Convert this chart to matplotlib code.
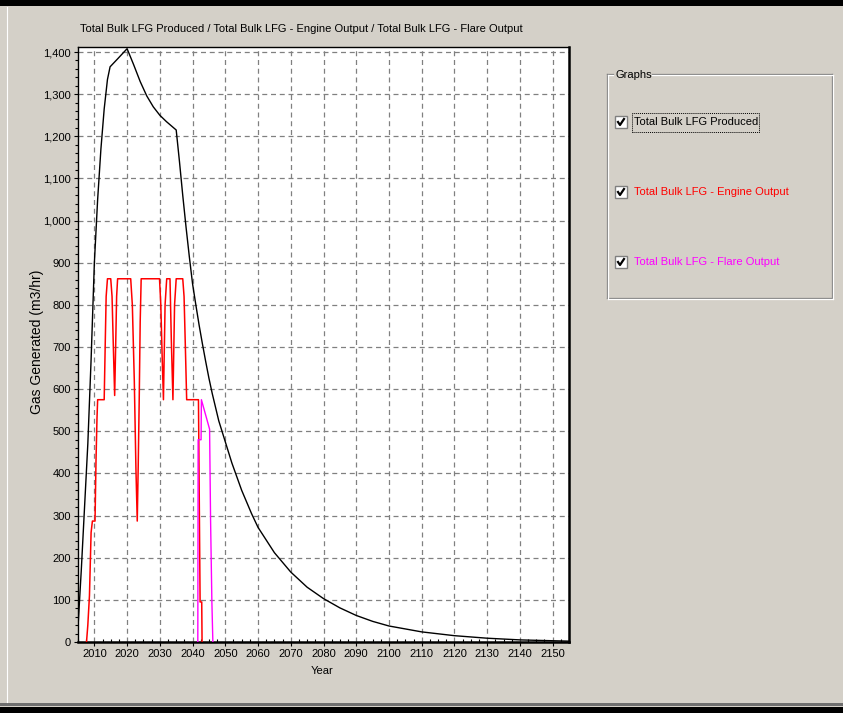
import matplotlib
matplotlib.use("Agg")
import matplotlib.pyplot as plt
from matplotlib.patches import Rectangle
from matplotlib.lines import Line2D
from matplotlib.ticker import FuncFormatter, MultipleLocator

# ---------------- data ----------------
produced_years = [2005, 2006, 2007, 2008, 2009, 2010, 2011, 2012, 2013, 2014, 2014.8,
                  2017, 2020, 2022, 2024, 2026, 2028, 2030, 2032, 2035, 2036, 2037,
                  2038, 2039, 2040, 2041, 2042, 2043, 2044, 2045, 2046, 2048, 2050,
                  2052, 2055, 2058, 2060, 2065, 2070, 2075, 2080, 2085, 2090, 2095,
                  2100, 2110, 2120, 2130, 2140, 2150, 2155]
produced_vals = [35, 170, 320, 470, 670, 900, 1050, 1170, 1265, 1335, 1365,
                 1383, 1408, 1370, 1330, 1296, 1270, 1250, 1235, 1215, 1140, 1060,
                 985, 915, 850, 800, 752, 708, 666, 626, 590, 525, 475,
                 425, 360, 305, 272, 212, 166, 130, 103, 81, 63, 49,
                 38, 24, 15, 9, 5, 3, 2]

engine_years = [2007.6, 2008.0, 2008.5, 2009.0, 2009.4, 2010.2, 2010.5, 2010.8, 2011.0,
                2013.0, 2013.3, 2013.6, 2014.0, 2015.0, 2015.4, 2015.8, 2016.2, 2016.5,
                2016.8, 2017.1, 2021.1, 2021.6, 2022.2, 2022.7, 2023.1, 2023.4, 2023.7,
                2024.0, 2024.3, 2029.9, 2030.3, 2030.7, 2031.1, 2031.6, 2032.1, 2033.1,
                2033.5, 2034.0, 2034.5, 2035.0, 2037.0, 2037.4, 2037.8, 2038.2, 2041.8,
                2041.9, 2042.3, 2042.8, 2042.9]
engine_vals = [0, 40, 110, 260, 287, 287, 430, 530, 575,
               575, 700, 820, 862, 862, 820, 700, 585, 700,
               820, 862, 862, 800, 620, 410, 287, 420, 575,
               760, 862, 862, 800, 680, 575, 800, 862, 862,
               720, 575, 800, 862, 862, 820, 700, 575, 575,
               480, 95, 95, 0]

flare_years = [2041.6, 2041.7, 2042.6, 2042.7, 2045.2, 2045.5, 2045.9, 2046.2]
flare_vals = [0, 480, 480, 575, 505, 290, 95, 0]

x_ticks = list(range(2010, 2151, 10))
y_ticks = list(range(0, 1401, 100))

title = "Total Bulk LFG Produced / Total Bulk LFG - Engine Output / Total Bulk LFG - Flare Output"
legend_labels = ["Total Bulk LFG Produced", "Total Bulk LFG - Engine Output",
                 "Total Bulk LFG - Flare Output"]
legend_colors = ["#000000", "#FF0000", "#FF00FF"]

# ---------------- figure ----------------
W, H = 843, 713
FONT = ["Liberation Sans", "DejaVu Sans"]
plt.rcParams["font.family"] = FONT
BG = "#D4D0C8"
FS = 8

fig = plt.figure(figsize=(W / 100, H / 100), dpi=100, facecolor=BG)


def fx(px):
    return px / W


def fy(py):
    return 1 - py / H


# window chrome
fig.patches.append(Rectangle((0, fy(6)), 1, 6 / H, transform=fig.transFigure,
                             facecolor="black", edgecolor="none"))
fig.patches.append(Rectangle((0, 0), 1, 6 / H, transform=fig.transFigure,
                             facecolor="black", edgecolor="none"))
fig.patches.append(Rectangle((0, fy(706)), 1, 3 / H, transform=fig.transFigure,
                             facecolor="#6E6E6E", edgecolor="none"))
fig.lines.append(Line2D([fx(7), fx(7)], [fy(7), fy(702)], transform=fig.transFigure,
                        color="white", lw=0.8))

# axes
ax_l, ax_r, ax_t, ax_b = 78, 569, 47, 642
ax = fig.add_axes([fx(ax_l), fy(ax_b), (ax_r - ax_l) / W, (ax_b - ax_t) / H])
ax.set_facecolor("white")

ax.plot(produced_years, produced_vals, color="#000000", lw=1.0, zorder=3)
ax.plot(engine_years, engine_vals, color="#FF0000", lw=1.1, zorder=4)
ax.plot(flare_years, flare_vals, color="#FF00FF", lw=1.0, zorder=5)

ax.set_xlim(2005, 2155)
ax.set_ylim(0, 1412)
ax.set_xticks(x_ticks)
ax.set_yticks(y_ticks)
ax.xaxis.set_minor_locator(MultipleLocator(2.5))
ax.yaxis.set_minor_locator(MultipleLocator(20))
ax.yaxis.set_major_formatter(FuncFormatter(lambda v, p: f"{int(v):,}"))
ax.grid(True, which="major", color="#808080", linestyle=(0, (4, 3)), lw=0.9)
ax.set_axisbelow(True)
ax.tick_params(axis="both", which="major", labelsize=FS, length=3, width=0.8,
               color="black", pad=2)
ax.tick_params(axis="x", which="minor", direction="in", length=2, width=0.8)
ax.tick_params(axis="y", which="minor", direction="out", length=2, width=0.8)
for s in ["left", "top"]:
    ax.spines[s].set_linewidth(1.0)
for s in ["right", "bottom"]:
    ax.spines[s].set_linewidth(1.8)

fig.text(fx(80), fy(29), title, fontsize=FS, ha="left", va="center")
fig.text(fx(37), fy(342), "Gas Generated (m3/hr)", fontsize=10, rotation=90,
         ha="center", va="center")
fig.text(fx(322), fy(671), "Year", fontsize=FS, ha="center", va="center")

# group box "Graphs"
gx0, gx1, gy0, gy1 = 607, 832, 74, 298


def hline(x0, x1, y, c):
    fig.lines.append(Line2D([fx(x0), fx(x1)], [fy(y), fy(y)],
                            transform=fig.transFigure, color=c, lw=0.9))


def vline(x, y0, y1, c):
    fig.lines.append(Line2D([fx(x), fx(x)], [fy(y0), fy(y1)],
                            transform=fig.transFigure, color=c, lw=0.9))


for off, c in [(0, "#808080"), (1, "white")]:
    hline(gx0 + off, 613, gy0 + off, c)
    hline(652, gx1 + off, gy0 + off, c)
    hline(gx0 + off, gx1 + off, gy1 + off, c)
    vline(gx0 + off, gy0 + off, gy1 + off, c)
    vline(gx1 + off, gy0 + off, gy1 + off, c)
fig.text(fx(615), fy(75), "Graphs", fontsize=FS, ha="left", va="center")

rows_y = [122, 192, 262]
for lab, col, ry in zip(legend_labels, legend_colors, rows_y):
    bx, bs = 615, 12
    fig.patches.append(Rectangle((fx(bx), fy(ry + bs / 2)), bs / W, bs / H,
                                 transform=fig.transFigure, facecolor="white",
                                 edgecolor="#808080", lw=1.0))
    fig.lines.append(Line2D([fx(bx + 3), fx(bx + 5), fx(bx + 9)],
                            [fy(ry), fy(ry + 3), fy(ry - 3)],
                            transform=fig.transFigure, color="black", lw=1.6))
    fig.text(fx(634), fy(ry), lab, fontsize=FS, color=col, ha="left", va="center")

fig.patches.append(Rectangle((fx(632), fy(132)), (759 - 632) / W, 19 / H,
                             transform=fig.transFigure, facecolor="none",
                             edgecolor="black", lw=0.7, linestyle=(0, (1, 1))))

fig.savefig("out.png", dpi=100, facecolor=BG)
